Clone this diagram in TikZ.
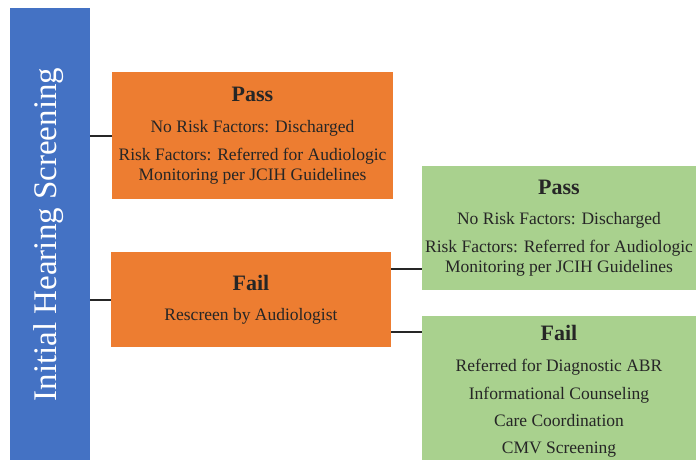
\documentclass[tikz,border=0pt]{standalone}
\usepackage{fontspec}
\setmainfont{Liberation Serif}
\usepackage{xcolor}
\usetikzlibrary{positioning}
\definecolor{scrblue}{HTML}{4472C4}
\definecolor{scrorange}{HTML}{ED7D31}
\definecolor{scrgreen}{HTML}{A9D18E}
\definecolor{txtdark}{HTML}{262626}
\tikzset{
  outcome/.style={rectangle, align=center, text=txtdark, inner sep=0pt, font=\fontsize{17.5}{19.3}\selectfont},
  link/.style={draw=txtdark, line width=2pt},
}
\newcommand{\headline}[1]{{\fontsize{22}{24}\selectfont\bfseries #1}}

\begin{document}
\begin{tikzpicture}[x=1pt,y=-1pt]
            \clip (0,0) rectangle (696,459);
            \node (screen) [fill=scrblue, minimum width=80pt, minimum height=460pt, anchor=north west, inner sep=0pt] at (10,8) {};
            \node (screentext) [rotate=90, text=white, font=\fontsize{33}{35}\selectfont] at (49,234.5) {Initial Hearing Screening};

            \node (opass) [outcome, fill=scrorange, minimum width=281pt, minimum height=127pt] at (252.5,135.5)
                {\headline{Pass}\\[11.7pt] No Risk Factors: Discharged\\[9pt] Risk Factors: Referred for Audiologic\\ Monitoring per JCIH Guidelines};
            \node (ofail) [outcome, fill=scrorange, minimum width=280pt, minimum height=95pt] at (251,299.5)
                {\headline{Fail}\\[10.7pt] Rescreen by Audiologist};
            \node (gpass) [outcome, fill=scrgreen, minimum width=274pt, minimum height=124pt] at (559,228)
                {\headline{Pass}\\[11pt] No Risk Factors: Discharged\\[9pt] Risk Factors: Referred for Audiologic\\ Monitoring per JCIH Guidelines};
            \node (gfail) [outcome, fill=scrgreen, minimum width=274pt, inner ysep=9pt, anchor=north] at (559,316)
                {\headline{Fail}\\[11.7pt] Referred for Diagnostic ABR\\[8.5pt] Informational Counseling\\[8pt] Care Coordination\\[7.5pt] CMV Screening};

            \draw[link] (screen.east |- opass.west) -- (opass.west);
            \draw[link] (screen.east |- ofail.west) -- (ofail.west);
            \draw[link] (ofail.east |- 0,269) -- (gpass.west |- 0,269);
            \draw[link] (ofail.east |- 0,332) -- (gfail.west |- 0,332);
        \end{tikzpicture}
\end{document}
